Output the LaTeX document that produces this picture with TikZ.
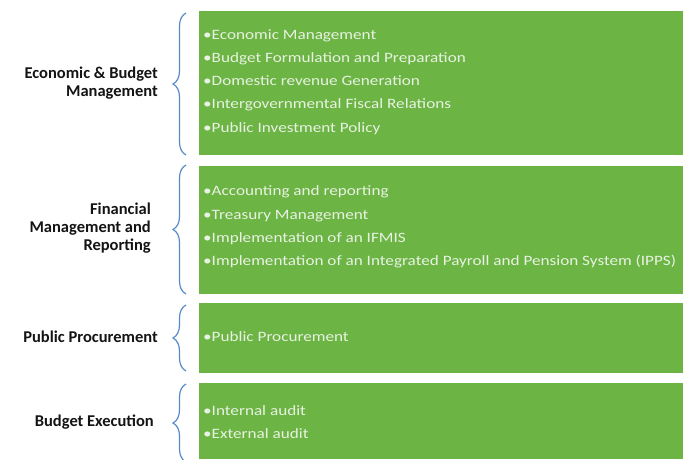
\documentclass[tikz,border=0pt]{standalone}
\usepackage{fontspec}
\setmainfont{Carlito}
\newfontfamily\itemfont{Carlito}[FakeStretch=1.2]
\usetikzlibrary{decorations.pathreplacing}
\definecolor{panelgreen}{RGB}{108,180,68}
\definecolor{braceblue}{RGB}{88,138,200}
\definecolor{itemtext}{RGB}{232,242,226}
\definecolor{labeltext}{RGB}{20,20,20}
\begin{document}
\begin{tikzpicture}[x=1pt,y=-1pt,
  panel/.style={fill=panelgreen,draw=none},
  items/.style={anchor=west,inner sep=0pt,align=left,text=itemtext,
    font=\itemfont\fontsize{14.3}{23.2}\selectfont},
  grouplabel/.style={anchor=east,inner sep=0pt,align=right,text=labeltext,
    font=\bfseries\fontsize{16.5}{18.3}\selectfont},
  groupbrace/.style={draw=braceblue,line width=1.2pt,
    decorate,decoration={brace,amplitude=13pt,aspect=0.5}}]
\useasboundingbox (0,0) rectangle (683,459);
\fill[white] (0,0) rectangle (683,459);

% green panels
\path[panel] (199,11) rectangle (683,155);
\path[panel] (199,166) rectangle (683,294);
\path[panel] (199,303) rectangle (683,373);
\path[panel] (199,383) rectangle (683,459);

% brace ends
\coordinate (b1t) at (186,13);  \coordinate (b1b) at (186,155);
\coordinate (b2t) at (186,165); \coordinate (b2b) at (186,294);
\coordinate (b3t) at (186,305); \coordinate (b3b) at (186,371);
\coordinate (b4t) at (186,384); \coordinate (b4b) at (186,462);

\draw[groupbrace] (b1b) -- (b1t);
\draw[groupbrace] (b2b) -- (b2t);
\draw[groupbrace] (b3b) -- (b3t);
\draw[groupbrace] (b4b) -- (b4t);

% group labels
\node[grouplabel] (l1) at (158,83) {Economic \& Budget\\Management};
\node[grouplabel] (l2) at (151,228) {Financial\\Management and\\Reporting};
\node[grouplabel] (l3) at (158,337) {Public Procurement};
\node[grouplabel] (l4) at (154,422) {Budget Execution};

% item lists
\node[items] (i1) at (203,82) {•Economic Management\\•Budget Formulation and Preparation\\•Domestic revenue Generation\\•Intergovernmental Fiscal Relations\\•Public Investment Policy};
\node[items] (i2) at (203,227) {•Accounting and reporting\\•Treasury Management\\•Implementation of an IFMIS\\•Implementation of an Integrated Payroll and Pension System (IPPS)};
\node[items] (i3) at (203,337) {•Public Procurement};
\node[items] (i4) at (203,422) {•Internal audit\\•External audit};
\end{tikzpicture}
\end{document}
